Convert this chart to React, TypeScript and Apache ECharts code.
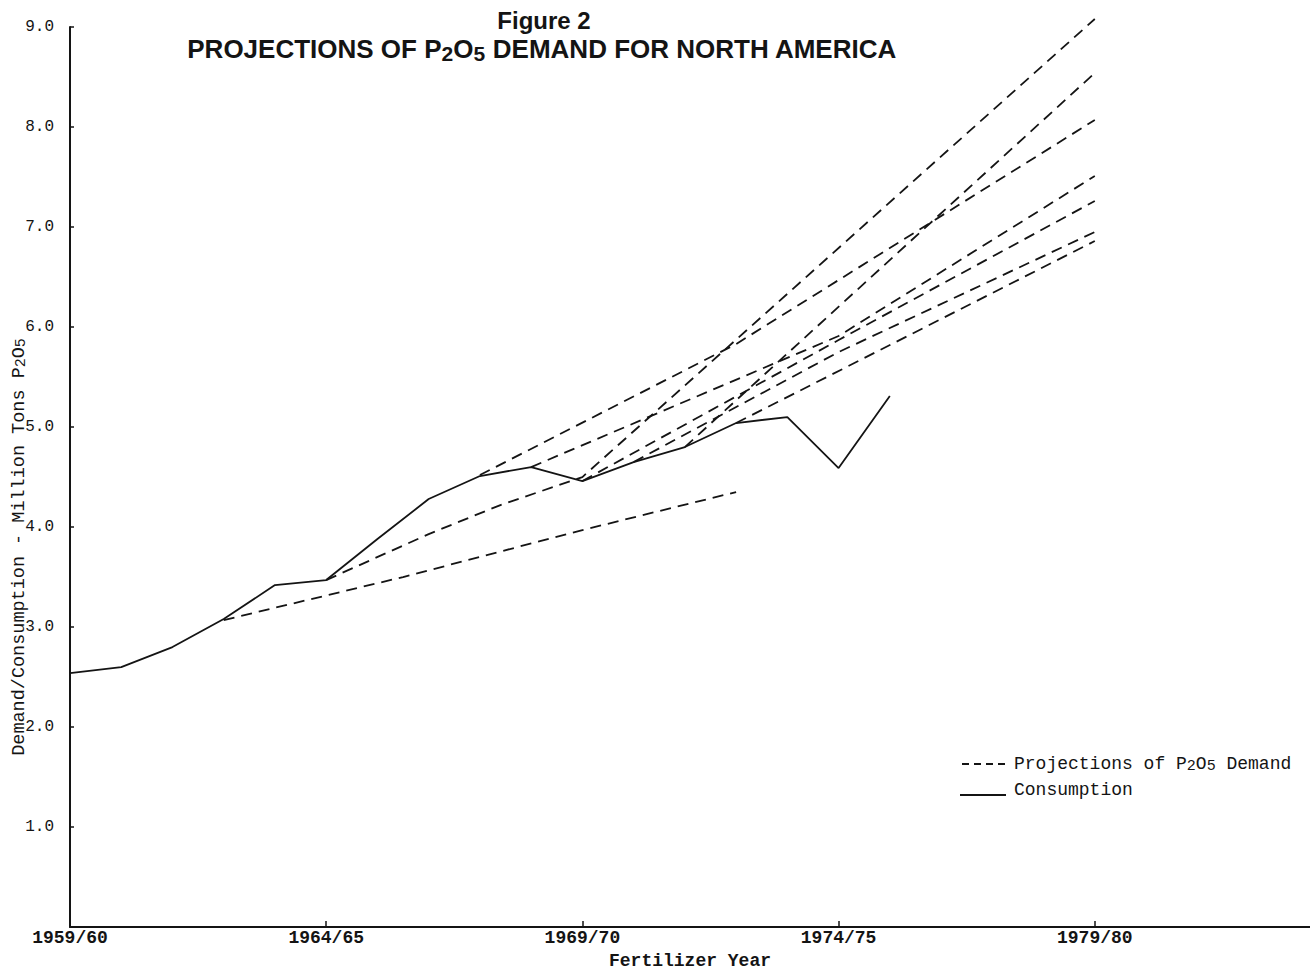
import React, { useEffect, useRef } from "react";
import * as echarts from "echarts";

// X axis: fertilizer year (first calendar year of the season)
const xTickYears = [1959, 1964, 1969, 1974, 1979];
const yTicks = [1, 2, 3, 4, 5, 6, 7, 8, 9];

// Actual consumption (million tons P2O5)
const consumptionYears = [1959, 1960, 1961, 1962, 1963, 1964, 1965, 1966, 1967, 1968, 1969, 1970, 1971, 1972, 1973, 1974, 1975];
const consumptionValues = [2.54, 2.6, 2.8, 3.08, 3.42, 3.47, 3.88, 4.28, 4.51, 4.6, 4.46, 4.65, 4.8, 5.04, 5.1, 4.59, 5.31];

// Projections of P2O5 demand: [year, value]
const proj1962: [number, number][] = [[1962, 3.07], [1965.5, 3.5], [1969, 3.97], [1972, 4.35]];
const proj1964: [number, number][] = [[1964, 3.47], [1966, 3.93], [1967.4, 4.22], [1969, 4.5], [1979, 9.08]];
const proj1967: [number, number][] = [[1967, 4.52], [1972, 5.83], [1979, 8.07]];
const proj1971: [number, number][] = [[1971, 4.8], [1979, 8.54]];
const proj1968: [number, number][] = [[1968, 4.6], [1974, 5.91], [1979, 7.51]];
const proj1969: [number, number][] = [[1969, 4.46], [1974, 5.87], [1979, 7.26]];
const proj1970: [number, number][] = [[1970, 4.65], [1974, 5.75], [1979, 6.95]];
const proj1972: [number, number][] = [[1972, 5.04], [1979, 6.86]];

const projections = [proj1962, proj1964, proj1967, proj1971, proj1968, proj1969, proj1970, proj1972];

const PROJ_NAME = "Projections of P2O5 Demand";
const CONS_NAME = "Consumption";
const INK = "#141414";
const MONO = "'Liberation Mono', 'DejaVu Sans Mono', monospace";
const SANS = "'Liberation Sans', Arial, sans-serif";
const DASH = [11, 7];

export default function App() {
  const ref = useRef<HTMLDivElement>(null);

  useEffect(() => {
    if (!ref.current) return;
    const chart = echarts.init(ref.current, undefined, { renderer: "svg" });

    const projSeries = projections.map((pts) => ({
      name: PROJ_NAME,
      type: "line",
      data: pts,
      symbol: "none",
      showSymbol: false,
      clip: false,
      silent: true,
      lineStyle: { color: INK, width: 1.8, type: DASH },
      itemStyle: { color: INK },
      z: 2,
    }));

    const option: any = {
      animation: false,
      backgroundColor: "#ffffff",
      grid: { left: 70, right: 0, top: 27, bottom: 29, containLabel: false },
      xAxis: {
        type: "value",
        min: 1959,
        max: 1983.2,
        name: "Fertilizer Year",
        nameLocation: "middle",
        nameGap: 23,
        nameTextStyle: { fontFamily: MONO, fontWeight: "bold", fontSize: 18, color: INK },
        axisLine: { show: true, lineStyle: { color: INK, width: 2 } },
        axisTick: { show: true, inside: true, length: 6, customValues: xTickYears, lineStyle: { color: INK, width: 1.5 } },
        axisLabel: {
          customValues: xTickYears,
          margin: 2,
          fontFamily: MONO,
          fontWeight: "bold",
          fontSize: 18,
          color: INK,
          formatter: (v: number) => `${v}/${String((v + 1) % 100).padStart(2, "0")}`,
        },
        splitLine: { show: false },
      },
      yAxis: {
        type: "value",
        min: 0,
        max: 9,
        interval: 1,
        axisLine: { show: true, lineStyle: { color: INK, width: 2 } },
        axisTick: { show: true, inside: true, length: 4, customValues: yTicks, lineStyle: { color: INK, width: 1.5 } },
        axisLabel: {
          customValues: yTicks,
          margin: 16,
          fontFamily: MONO,
          fontSize: 16,
          color: INK,
          formatter: (v: number) => v.toFixed(1),
        },
        splitLine: { show: false },
      },
      legend: { show: false },
      graphic: [
        {
          type: "text",
          x: 544,
          y: 20,
          style: { text: "Figure 2", font: `bold 24px ${SANS}`, fill: INK, align: "center", verticalAlign: "middle" },
        },
        {
          type: "text",
          x: 542,
          y: 49,
          style: {
            text: "PROJECTIONS OF P{s|2}O{s|5} DEMAND FOR NORTH AMERICA",
            font: `bold 26px ${SANS}`,
            fill: INK,
            align: "center",
            verticalAlign: "middle",
            rich: { s: { font: `bold 21px ${SANS}`, fill: INK, padding: [8, 0, 0, 0] } },
          },
        },
        {
          type: "text",
          x: 19,
          y: 547,
          rotation: Math.PI / 2,
          style: {
            text: "Demand/Consumption - Million Tons P{s|2}O{s|5}",
            font: `18.5px ${MONO}`,
            fill: INK,
            align: "center",
            verticalAlign: "middle",
            rich: { s: { font: `15px ${MONO}`, fill: INK, padding: [5, 0, 0, 0] } },
          },
        },
        // legend
        {
          type: "line",
          shape: { x1: 962, y1: 764, x2: 1006, y2: 764 },
          style: { stroke: INK, lineWidth: 1.8, lineDash: [7, 5] },
        },
        {
          type: "text",
          x: 1014,
          y: 764,
          style: {
            text: "Projections of P{s|2}O{s|5} Demand",
            font: `18px ${MONO}`,
            fill: INK,
            verticalAlign: "middle",
            rich: { s: { font: `15px ${MONO}`, fill: INK, padding: [5, 0, 0, 0] } },
          },
        },
        {
          type: "line",
          shape: { x1: 960, y1: 795, x2: 1006, y2: 795 },
          style: { stroke: INK, lineWidth: 1.8 },
        },
        {
          type: "text",
          x: 1014,
          y: 790,
          style: { text: "Consumption", font: `18px ${MONO}`, fill: INK, verticalAlign: "middle" },
        },
      ],
      series: [
        ...projSeries,
        {
          name: CONS_NAME,
          type: "line",
          data: consumptionYears.map((y, i) => [y, consumptionValues[i]]),
          symbol: "none",
          showSymbol: false,
          silent: true,
          lineStyle: { color: INK, width: 1.8, type: "solid" },
          itemStyle: { color: INK },
          z: 3,
        },
      ],
    };

    chart.setOption(option);
    return () => chart.dispose();
  }, []);

  return (
    <div
      ref={ref}
      style={{ position: "absolute", left: 0, top: 0, width: 1310, height: 975, background: "#fff" }}
    />
  );
}
